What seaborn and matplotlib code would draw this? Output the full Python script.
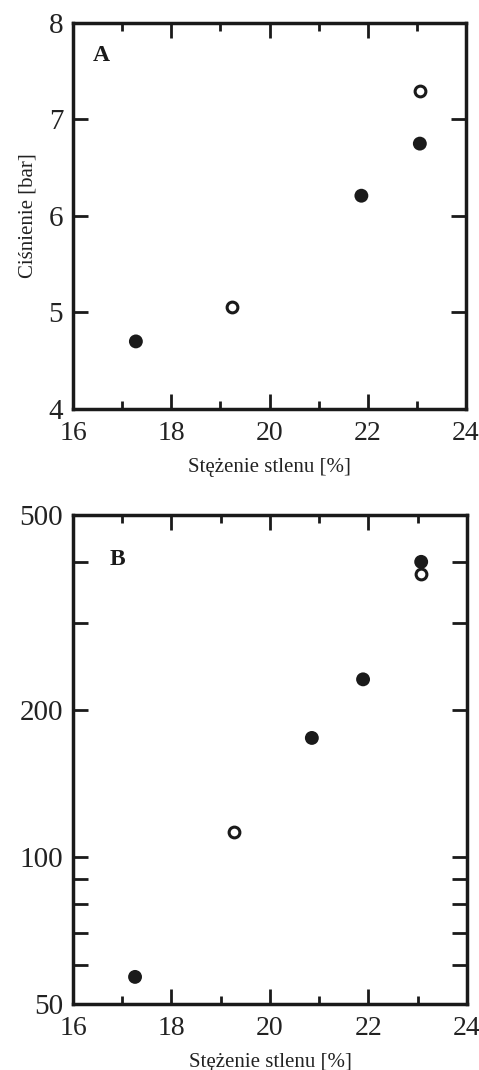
import matplotlib
matplotlib.use("Agg")
import matplotlib.pyplot as plt
import seaborn as sns
import pandas as pd

# Panel A: pressure [bar] vs oxygen concentration [%]
a_filled_x = [17.28, 21.87, 23.06]
a_filled_y = [4.70, 6.21, 6.75]
a_open_x = [19.23, 23.06]
a_open_y = [5.06, 7.30]

# Panel B: logarithmic quantity vs oxygen concentration [%]
b_filled_x = [17.26, 20.85, 21.89, 23.07]
b_filled_y = [56.8, 175.0, 230.6, 401.0]
b_open_x = [19.26, 23.07]
b_open_y = [112.5, 378.6]

x_major = [16, 18, 20, 22, 24]
x_minor = [17, 19, 21, 23]
a_yticks = [4, 5, 6, 7, 8]
b_yticks = [50, 60, 70, 80, 90, 100, 200, 300, 400, 500]
b_ylabels = ["50", "", "", "", "", "100", "200", "", "", "500"]

xlabel = "Stężenie stlenu [%]"
ylabel_a = "Ciśnienie [bar]"

sns.set_theme(style="ticks")
plt.rcParams["font.family"] = ["Liberation Serif", "DejaVu Serif"]
plt.rcParams["axes.linewidth"] = 2.5

fig = plt.figure(figsize=(4.79, 10.70), dpi=100)
ax_a = fig.add_axes([0.1524, 0.6178, 0.8205, 0.3607])
ax_b = fig.add_axes([0.1524, 0.0617, 0.8225, 0.4570])

dfa_f = pd.DataFrame({"x": a_filled_x, "y": a_filled_y})
dfa_o = pd.DataFrame({"x": a_open_x, "y": a_open_y})
dfb_f = pd.DataFrame({"x": b_filled_x, "y": b_filled_y})
dfb_o = pd.DataFrame({"x": b_open_x, "y": b_open_y})

filled_kw = dict(s=100, color="#1a1a1a", edgecolor="none", marker="o")
open_kw = dict(s=60, facecolor="white", edgecolor="#1a1a1a", linewidth=2.2, marker="o")

sns.scatterplot(data=dfa_f, x="x", y="y", ax=ax_a, zorder=3, **filled_kw)
sns.scatterplot(data=dfa_o, x="x", y="y", ax=ax_a, zorder=3, **open_kw)
sns.scatterplot(data=dfb_f, x="x", y="y", ax=ax_b, zorder=3, **filled_kw)
sns.scatterplot(data=dfb_o, x="x", y="y", ax=ax_b, zorder=3, **open_kw)

for ax in (ax_a, ax_b):
    ax.set_xlim(16, 24)
    ax.set_xticks(x_major)
    ax.set_xticks(x_minor, minor=True)
    ax.tick_params(axis="both", which="both", direction="in", top=True, right=True,
                   width=2.0, color="#1a1a1a", labelcolor="#222222")
    ax.tick_params(axis="x", which="major", length=11, pad=9, labelsize=20)
    ax.tick_params(axis="x", which="minor", length=5.5)
    ax.tick_params(axis="y", which="major", length=11, pad=7, labelsize=21)
    ax.set_xlabel(xlabel, fontsize=15, color="#222222", labelpad=8)
    for sp in ax.spines.values():
        sp.set_color("#1a1a1a")

ax_a.set_ylim(4, 8)
ax_a.set_yticks(a_yticks)
ax_a.set_ylabel(ylabel_a, fontsize=15, color="#222222", labelpad=8)
ax_a.text(0.071, 0.915, "A", transform=ax_a.transAxes, fontsize=17,
          fontweight="bold", ha="center", va="center", color="#1a1a1a")

ax_b.set_yscale("log")
ax_b.set_ylim(50, 500)
ax_b.set_yticks(b_yticks)
ax_b.set_yticklabels(b_ylabels)
ax_b.yaxis.set_minor_locator(matplotlib.ticker.NullLocator())
ax_b.set_ylabel("")
ax_b.text(0.112, 0.91, "B", transform=ax_b.transAxes, fontsize=17,
          fontweight="bold", ha="center", va="center", color="#1a1a1a")

fig.savefig("out.png", dpi=100, facecolor="white")
